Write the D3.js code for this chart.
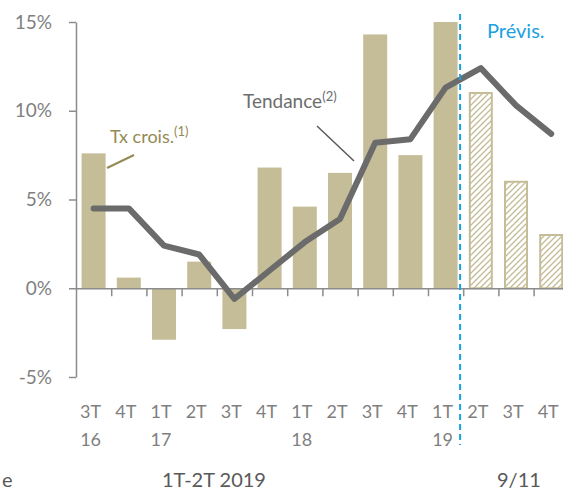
<!DOCTYPE html>
<html>
<head>
<meta charset="utf-8">
<script src="https://cdn.jsdelivr.net/npm/d3@7"></script>
<style>
  body { margin: 0; background: #fff; }
  svg { display: block; font-family: Lato, "Open Sans", sans-serif; }
</style>
</head>
<body>
<div id="chart"></div>
<script>
// data
var quarters = ["3T", "4T", "1T", "2T", "3T", "4T", "1T", "2T", "3T", "4T", "1T", "2T", "3T", "4T"]
var years = ["16", "", "17", "", "", "", "18", "", "", "", "19", "", "", ""]
var growth = [7.6, 0.6, -2.9, 1.5, -2.3, 6.8, 4.6, 6.5, 14.3, 7.5, 15.0, 11.0, 6.0, 3.0]
var trend = [4.5, 4.5, 2.4, 1.9, -0.6, 1.0, 2.6, 3.9, 8.2, 8.4, 11.3, 12.4, 10.3, 8.7]
var forecastFrom = 11
var yTicks = [-5, 0, 5, 10, 15]

var W = 563, H = 493
var svg = d3.select("#chart").append("svg").attr("width", W).attr("height", H)

var barColor = "#c5bd97"
var axisColor = "#8c8c8c"

var left = 76, step = 35.2
var idx = d3.range(quarters.length)
var x = d3.scaleBand().domain(idx)
  .range([left, left + step * quarters.length])
  .paddingInner(0.318).paddingOuter(0.159)
var xb = d3.scaleLinear().domain([0, quarters.length]).range([left, left + step * quarters.length])
var y = d3.scaleLinear().domain([-5, 15]).range([377, 22])

// hatch pattern for forecast bars
var defs = svg.append("defs")
defs.append("pattern")
  .attr("id", "hatch")
  .attr("patternUnits", "userSpaceOnUse")
  .attr("width", 6).attr("height", 6)
  .append("path")
  .attr("d", "M0,6 L6,0 M-1.5,1.5 L1.5,-1.5 M4.5,7.5 L7.5,4.5")
  .attr("stroke", barColor).attr("stroke-width", 1.4)

// bars
svg.append("g").selectAll("rect").data(idx).enter().append("rect")
  .attr("x", function (i) { return i >= forecastFrom ? x(i) + 1 : x(i) })
  .attr("width", function (i) { return i >= forecastFrom ? x.bandwidth() - 2 : x.bandwidth() })
  .attr("y", function (i) { return y(Math.max(0, growth[i])) })
  .attr("height", function (i) { return Math.abs(y(growth[i]) - y(0)) })
  .attr("fill", function (i) { return i >= forecastFrom ? "url(#hatch)" : barColor })
  .attr("stroke", function (i) { return i >= forecastFrom ? barColor : "none" })
  .attr("stroke-width", 2)

// y axis
var yAxis = svg.append("g")
  .attr("transform", "translate(" + left + ",0)")
  .call(d3.axisLeft(y).tickValues(yTicks).tickSize(7).tickSizeOuter(0)
    .tickFormat(function (d) { return d + "%" }))
yAxis.select(".domain").attr("stroke", axisColor).attr("stroke-width", 1.5)
yAxis.selectAll(".tick line").attr("stroke", axisColor).attr("stroke-width", 1.5)
yAxis.selectAll(".tick text")
  .attr("x", -24)
  .attr("fill", "#7f7f7f")
  .style("font-size", "19px")
  .style("font-family", "Lato, sans-serif")

// x axis at zero
var xAxis = svg.append("g")
  .attr("transform", "translate(0," + y(0) + ")")
  .call(d3.axisBottom(xb).tickValues(d3.range(1, quarters.length)).tickSize(8)
    .tickSizeOuter(0).tickFormat(""))
xAxis.select(".domain").attr("stroke", axisColor).attr("stroke-width", 1.5)
xAxis.selectAll(".tick line").attr("stroke", axisColor).attr("stroke-width", 1.5)

// category labels
var labels = svg.append("g").attr("fill", "#7f7f7f").style("font-size", "18px")
labels.selectAll("text.q").data(idx).enter().append("text")
  .attr("class", "q")
  .attr("x", function (i) { return x(i) + x.bandwidth() / 2 - 3 })
  .attr("y", 418)
  .attr("text-anchor", "middle")
  .text(function (i) { return quarters[i] })
labels.selectAll("text.yr").data(idx.filter(function (i) { return years[i] !== "" }))
  .enter().append("text")
  .attr("class", "yr")
  .attr("x", function (i) { return x(i) + x.bandwidth() / 2 - 3 })
  .attr("y", 446)
  .attr("text-anchor", "middle")
  .text(function (i) { return years[i] })

// trend line
var line = d3.line()
  .x(function (i) { return x(i) + x.bandwidth() / 2 })
  .y(function (i) { return y(trend[i]) })
svg.append("path")
  .datum(idx)
  .attr("d", line)
  .attr("fill", "none")
  .attr("stroke", "#6b6b6b")
  .attr("stroke-width", 6)
  .attr("stroke-linecap", "round")
  .attr("stroke-linejoin", "round")

// forecast separator
var sepX = x(forecastFrom - 1) + x.bandwidth() + 2.5
svg.append("line")
  .attr("x1", sepX).attr("x2", sepX)
  .attr("y1", 14).attr("y2", 445)
  .attr("stroke", "#1ba1e2")
  .attr("stroke-width", 2)
  .attr("stroke-dasharray", "6,4")

svg.append("text")
  .attr("x", 487).attr("y", 38)
  .attr("fill", "#1ba1e2")
  .style("font-size", "20px")
  .text("Prévis.")

// annotations
var txt1 = svg.append("text").attr("x", 110).attr("y", 143)
  .attr("fill", "#948a54").style("font-size", "18px")
txt1.append("tspan").text("Tx crois.")
txt1.append("tspan").attr("dy", -7).style("font-size", "13px").text("(1)")
svg.append("line")
  .attr("x1", 107).attr("y1", 168).attr("x2", 134).attr("y2", 155)
  .attr("stroke", "#948a54").attr("stroke-width", 2)

var txt2 = svg.append("text").attr("x", 243).attr("y", 108)
  .attr("fill", "#6d6d6d").style("font-size", "19px")
txt2.append("tspan").text("Tendance")
txt2.append("tspan").attr("dy", -7).style("font-size", "13px").text("(2)")
svg.append("line")
  .attr("x1", 317).attr("y1", 126).attr("x2", 354).attr("y2", 161)
  .attr("stroke", "#595959").attr("stroke-width", 1.5)

// footer
var foot = svg.append("g").attr("fill", "#595959").style("font-size", "20px")
foot.append("text").attr("x", 2).attr("y", 487).text("e")
foot.append("text").attr("x", 162).attr("y", 487).text("1T-2T 2019")
foot.append("text").attr("x", 497).attr("y", 487).text("9/11")
</script>
</body>
</html>
